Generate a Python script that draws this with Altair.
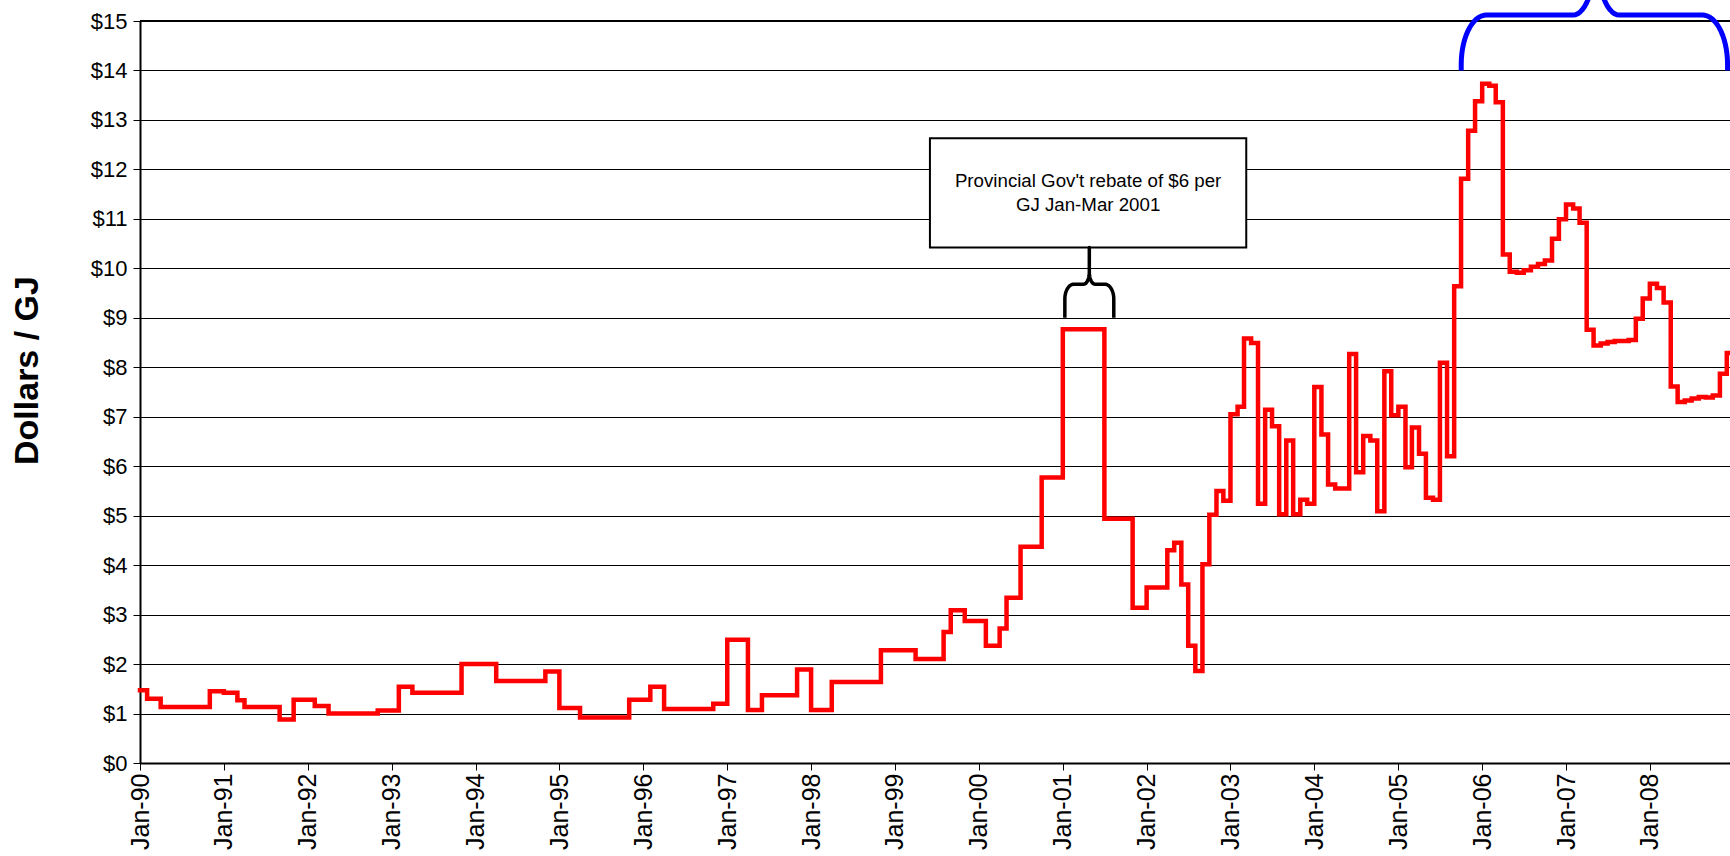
import altair as alt
import numpy as np
import pandas as pd

# Month each new rate took effect (YYYY-MM) and the rate in $/GJ
change_months = [
    "1990-01", "1990-02", "1990-04", "1990-11",
    "1991-01", "1991-03", "1991-04", "1991-09", "1991-11",
    "1992-02", "1992-04", "1992-11",
    "1993-02", "1993-04", "1993-11",
    "1994-04", "1994-11",
    "1995-01", "1995-04", "1995-11",
    "1996-02", "1996-04", "1996-11",
    "1997-01", "1997-04", "1997-06", "1997-11",
    "1998-01", "1998-04", "1998-11",
    "1999-04", "1999-08", "1999-09", "1999-11",
    "2000-02", "2000-04", "2000-05", "2000-07", "2000-10",
    "2001-01", "2001-07", "2001-11",
    "2002-01", "2002-04", "2002-05", "2002-06", "2002-07", "2002-08",
    "2002-09", "2002-10", "2002-11", "2002-12",
    "2003-01", "2003-02", "2003-03", "2003-04", "2003-05", "2003-06",
    "2003-07", "2003-08", "2003-09", "2003-10", "2003-11", "2003-12",
    "2004-01", "2004-02", "2004-03", "2004-04", "2004-06", "2004-07",
    "2004-08", "2004-09", "2004-10", "2004-11", "2004-12",
    "2005-01", "2005-02", "2005-03", "2005-04", "2005-05", "2005-06",
    "2005-07", "2005-08", "2005-09", "2005-10", "2005-11", "2005-12",
    "2006-01", "2006-02", "2006-03", "2006-04", "2006-05", "2006-06",
    "2006-07", "2006-08", "2006-09", "2006-10", "2006-11", "2006-12",
    "2007-01", "2007-02", "2007-03", "2007-04", "2007-05", "2007-06",
    "2007-07", "2007-08", "2007-10", "2007-11", "2007-12",
    "2008-01", "2008-02", "2008-03", "2008-04", "2008-05", "2008-06",
    "2008-07", "2008-08", "2008-09", "2008-10", "2008-11", "2008-12",
]
rates = [
    1.47, 1.30, 1.13, 1.45,
    1.42, 1.27, 1.13, 0.88, 1.28,
    1.15, 1.00, 1.06,
    1.54, 1.42, 2.00,
    1.66, 1.85,
    1.11, 0.92, 1.28,
    1.54, 1.09, 1.20,
    2.49, 1.07, 1.37, 1.89,
    1.07, 1.64, 2.28,
    2.10, 2.65, 3.09, 2.87,
    2.37, 2.72, 3.34, 4.37, 5.77,
    8.77, 4.94, 3.14,
    3.55, 4.30, 4.45, 3.61, 2.37, 1.86,
    4.02, 5.02, 5.50, 5.30,
    7.05, 7.20, 8.58, 8.49, 5.24, 7.14,
    6.81, 5.03, 6.52, 5.03, 5.32, 5.24,
    7.60, 6.64, 5.63, 5.55, 8.27, 5.88,
    6.61, 6.52, 5.09, 7.92, 7.03,
    7.20, 5.98, 6.78, 6.25, 5.36, 5.32,
    8.09, 6.20, 9.64, 11.81, 12.78, 13.38,
    13.73, 13.69, 13.36, 10.28, 9.93, 9.91,
    9.96, 10.03, 10.09, 10.16, 10.60, 10.99,
    11.29, 11.21, 10.92, 8.76, 8.44, 8.48,
    8.51, 8.53, 8.55, 8.98, 9.39,
    9.69, 9.60, 9.31, 7.61, 7.30, 7.33,
    7.37, 7.40, 7.39, 7.43, 7.87, 8.29,
]

# Time window shown on the x axis
x_start = pd.Timestamp("1990-01-01")
x_end = pd.Timestamp("2008-12-15")
year_ticks = list(range(1990, 2009))
y_ticks = list(range(0, 16))

# Rebate call-out: box extent (months after Jan 1990, $/GJ) and its brace
note_lines = ["Provincial Gov't rebate of $6 per", "GJ Jan-Mar 2001"]
note_box_months = (113.0, 158.25)
note_box_prices = (10.42, 12.63)
note_text_price = 11.76
rebate_brace = dict(m0=132.3, m1=139.3, leg=9.0, bar=9.68, tip=10.42,
                    rx=1.3, ry=0.3, crx=0.8, cry=0.25)
# High-price period brace along the top edge (its tip runs off the top)
peak_brace = dict(m0=189.0, m1=227.1, leg=14.0, bar=15.12, tip=16.45,
                  rx=3.6, ry=1.0, crx=3.3, cry=1.3, xc=208.3)

FONT = "Liberation Sans"
Y_TITLE = "Dollars / GJ"


def iso(ts):
    return ts.strftime("%Y-%m-%dT%H:%M:%S")


def month_pos(m):
    """Date for a (fractional) number of months after Jan 1990."""
    return iso(x_start + pd.Timedelta(days=float(m) * 30.4375))


def arc(cx, cy, rx, ry, a0, a1, n=16):
    t = np.radians(np.linspace(a0, a1, n))
    return list(zip(cx + rx * np.cos(t), cy + ry * np.sin(t)))


def brace(m0, m1, leg, bar, tip, rx, ry, crx, cry, xc=None):
    """Curly brace lying on its side: legs point down, the tip points up."""
    if xc is None:
        xc = (m0 + m1) / 2
    pts = [(m0, leg)]
    pts += arc(m0 + rx, bar - ry, rx, ry, 180, 90)
    pts += arc(xc - crx, bar + cry, crx, cry, 270, 360)
    pts += [(xc, tip)]
    pts += arc(xc + crx, bar + cry, crx, cry, 180, 270)
    pts += arc(m1 - rx, bar - ry, rx, ry, 90, 0)
    pts += [(m1, leg)]
    return pd.DataFrame({
        "date": [month_pos(p[0]) for p in pts],
        "price": [p[1] for p in pts],
        "order": list(range(len(pts))),
    })


# Step series, carried on to the right-hand edge of the window
prices = pd.DataFrame({
    "date": [iso(pd.Timestamp(m + "-01")) for m in change_months] + [iso(x_end)],
    "price": rates + [rates[-1]],
})

x_scale = alt.Scale(domain=[alt.DateTime(year=1990, month=1, date=1),
                            alt.DateTime(year=2008, month=12, date=15)])
y_scale = alt.Scale(domain=[0, 15], nice=False, zero=True)

x_axis = alt.Axis(
    values=[alt.DateTime(year=y, month=1, date=1) for y in year_ticks],
    format="%b-%y", labelAngle=270, labelAlign="right", labelBaseline="middle",
    grid=False, tickSize=7, labelPadding=3, domainWidth=2, tickWidth=1,
    labelFontSize=25,
)
y_axis = alt.Axis(
    values=y_ticks, labelExpr="'$' + datum.value", grid=True,
    tickSize=7, labelPadding=6, domainWidth=2, tickWidth=1,
    labelFontSize=22,
    titleFont=FONT, titleFontSize=34, titleFontWeight="bold",
    titleAngle=270, titleAlign="center", titleBaseline="middle",
    titleX=-113, titleY=349,
)

x_enc = alt.X("date:T", scale=x_scale, axis=x_axis, title=None)
y_enc = alt.Y("price:Q", scale=y_scale, axis=y_axis, title=Y_TITLE)
x_plain = alt.X("date:T", title=None)
y_plain = alt.Y("price:Q", title=Y_TITLE)

top_edge = alt.Chart(pd.DataFrame({"price": [y_ticks[-1]]})).mark_rule(
    color="black", strokeWidth=2
).encode(y=y_plain)

price_line = alt.Chart(prices).mark_line(
    interpolate="step-after", color="#FF0000", strokeWidth=4.5,
    strokeJoin="miter", strokeCap="square",
).encode(x=x_enc, y=y_enc)

box = alt.Chart(pd.DataFrame({
    "date": [month_pos(note_box_months[0])],
    "date2": [month_pos(note_box_months[1])],
    "price": [note_box_prices[0]],
    "price2": [note_box_prices[1]],
})).mark_rect(fill="white", stroke="black", strokeWidth=2).encode(
    x=x_plain, x2="date2:T", y=y_plain, y2="price2:Q"
)

note = alt.Chart(pd.DataFrame({
    "date": [month_pos(sum(note_box_months) / 2)],
    "price": [note_text_price],
    "label": ["\n".join(note_lines)],
})).mark_text(
    font=FONT, fontSize=18.7, lineHeight=24, lineBreak="\n",
    align="center", baseline="middle", color="black",
).encode(x=x_plain, y=y_plain, text="label:N")

rebate_line = alt.Chart(brace(**rebate_brace)).mark_line(
    color="black", strokeWidth=3.5, strokeJoin="round"
).encode(x=x_plain, y=y_plain, order="order:Q")

peak_line = alt.Chart(brace(**peak_brace)).mark_line(
    color="#0000FF", strokeWidth=5, strokeJoin="round"
).encode(x=x_plain, y=y_plain, order="order:Q")

chart = alt.layer(
    top_edge, price_line, box, note, rebate_line, peak_line
).properties(
    width=1590, height=742,
    padding={"left": 140, "top": 21, "right": 0, "bottom": 93},
    autosize=alt.AutoSizeParams(type="none"),
    background="white",
).configure_view(stroke=None).configure_axis(
    labelFont=FONT, labelColor="black",
    tickColor="black", domainColor="black",
    gridColor="black", gridWidth=1, gridOpacity=1,
    titleColor="black",
)

chart.save("out.html", embed_options={"renderer": "svg", "actions": False})
